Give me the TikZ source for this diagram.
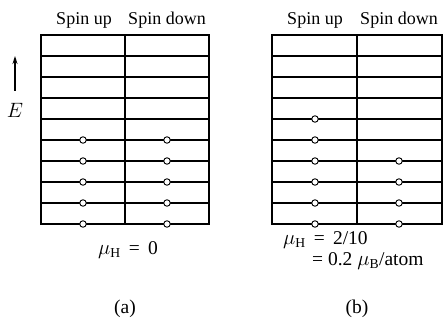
\documentclass[tikz,border=0pt]{standalone}
\usepackage{fontspec}
\setmainfont{Liberation Serif}
\usetikzlibrary{arrows.meta}
\begin{document}
\begin{tikzpicture}[x=1pt,y=-1pt,
  lvl/.style={line width=1.1pt},
  frame/.style={line width=1.2pt},
  el/.style={circle,draw,fill=white,inner sep=0pt,minimum size=6.5pt,line width=0.9pt},
  lab/.style={font=\fontsize{18}{21}\selectfont,inner sep=0pt},
  mlab/.style={font=\fontsize{19.5}{22}\selectfont,inner sep=0pt}]
\useasboundingbox (0,0) rectangle (445,320);
% panel (a)
\foreach \y in {56,77,98,119,140,161,182,203} \draw[lvl] (41,\y) -- (209,\y);
\draw[frame] (41,35) rectangle (209,224);
\draw[frame] (125,35) -- (125,224);
\foreach \y [count=\i] in {140,161,182,203,224} {
  \node[el] (au\i) at (83,\y) {};
  \node[el] (ad\i) at (167,\y) {};
}
\node[lab] (aup) at (84,20) {Spin up};
\node[lab] (adn) at (167,20) {Spin down};
\node[mlab] (E) at (15,110) {$E$};
\coordinate (Et) at (15,56);
\draw[line width=1.1pt,-{Stealth[length=8pt,width=5pt]}] (15,91) -- (Et);
\node[mlab] (amu) at (128,250) {$\mu_{\mathrm{H}}$ \,=\, 0};
\node[mlab] (acap) at (125,309) {(a)};
% panel (b)
\foreach \y in {56,77,98,119,140,161,182,203} \draw[lvl] (272,\y) -- (442,\y);
\draw[frame] (272,35) rectangle (442,224);
\draw[frame] (357,35) -- (357,224);
\foreach \y [count=\i] in {119,140,161,182,203,224} \node[el] (bu\i) at (315,\y) {};
\foreach \y [count=\i] in {161,182,203,224} \node[el] (bd\i) at (399,\y) {};
\node[lab] (bup) at (315,20) {Spin up};
\node[lab] (bdn) at (399,20) {Spin down};
\node[mlab,anchor=west] (bmu1) at (283,240) {$\mu_{\mathrm{H}}$ \,=\, 2/10};
\node[mlab,anchor=west] (bmu2) at (312,261) {= 0.2 $\mu_{\mathrm{B}}$/atom};
\node[mlab] (bcap) at (357,309) {(b)};
\end{tikzpicture}
\end{document}
